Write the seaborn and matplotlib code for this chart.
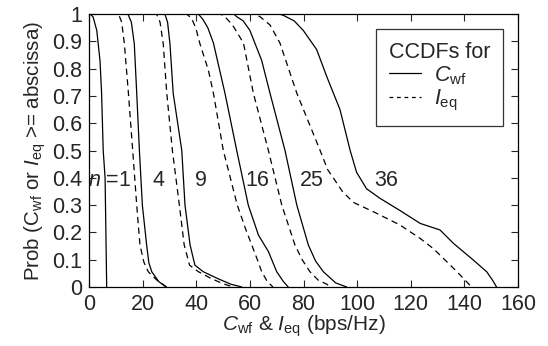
import numpy as np
import pandas as pd
import matplotlib
matplotlib.use("Agg")
import matplotlib.pyplot as plt
from matplotlib.lines import Line2D
import seaborn as sns

# curve points (x in bps/Hz, y = CCDF)
n1_cwf_x = [0, 0.4, 1.5, 2.9, 4.1, 4.7, 5.3, 6.0, 6.6]
n1_cwf_y = [1, 1, 0.99, 0.94, 0.83, 0.71, 0.5, 0.4, 0]

n4_ieq_x = [0, 11, 12.2, 13.2, 14.7, 16.3, 17.8, 19.0, 20.5, 22.1, 25.2, 29]
n4_ieq_y = [1, 1, 0.97, 0.89, 0.71, 0.5, 0.3, 0.154, 0.09, 0.056, 0.026, 0]
n4_cwf_x = [0, 14.5, 15.8, 16.9, 17.8, 18.8, 19.9, 21.5, 22.3, 23.4, 26, 28.7]
n4_cwf_y = [1, 1, 0.97, 0.89, 0.71, 0.5, 0.3, 0.154, 0.09, 0.056, 0.02, 0]

n9_ieq_x = [0, 25.2, 26.5, 27.7, 29.0, 31.1, 33.7, 35.5, 37.5, 40.8, 45.8, 50, 53.8]
n9_ieq_y = [1, 1, 0.97, 0.89, 0.71, 0.5, 0.3, 0.154, 0.08, 0.056, 0.03, 0.012, 0]
n9_cwf_x = [0, 28.3, 29.3, 30.2, 31.4, 34.6, 35.8, 37.7, 39.5, 42.6, 48.2, 53, 57]
n9_cwf_y = [1, 1, 0.97, 0.89, 0.71, 0.5, 0.3, 0.154, 0.08, 0.056, 0.03, 0.01, 0]

n16_ieq_x = [0, 36.4, 38.2, 39.8, 41.4, 44.5, 46.4, 50.1, 55.3, 58.5, 60.7, 62.8, 64.4, 66.5, 68.6]
n16_ieq_y = [1, 1, 0.985, 0.95, 0.89, 0.795, 0.71, 0.5, 0.3, 0.21, 0.154, 0.1, 0.056, 0.02, 0]
n16_cwf_x = [0, 40.8, 42.5, 44.3, 46.4, 50.7, 55.1, 59.4, 63.2, 66.9, 70, 72.5, 74.3]
n16_cwf_y = [1, 1, 0.98, 0.95, 0.894, 0.71, 0.5, 0.3, 0.19, 0.13, 0.056, 0.02, 0]

n25_ieq_x = [0, 49, 50.7, 53.5, 57.6, 61.3, 66.9, 71.9, 76.8, 79.5, 82.4, 85.5, 88.7, 90]
n25_ieq_y = [1, 1, 0.99, 0.96, 0.894, 0.71, 0.5, 0.3, 0.154, 0.1, 0.056, 0.025, 0.01, 0]
n25_cwf_x = [0, 54, 55.1, 57.5, 60, 64.4, 67.5, 73.1, 77.5, 81.8, 84.5, 87.4, 92, 96.1]
n25_cwf_y = [1, 1, 0.99, 0.975, 0.94, 0.83, 0.71, 0.5, 0.3, 0.154, 0.095, 0.056, 0.015, 0]

n36_ieq_x = [0, 62, 63.8, 67.5, 71.2, 77.5, 86.2, 87.4, 89.0, 91.1, 94.5, 98.6, 106, 116, 123.5,
             128.5, 133.4, 136.8, 139.6, 142.7]
n36_ieq_y = [1, 1, 0.99, 0.96, 0.894, 0.71, 0.5, 0.47, 0.43, 0.40, 0.35, 0.31, 0.276, 0.227, 0.178,
             0.14, 0.093, 0.06, 0.032, 0]
n36_cwf_x = [0, 71, 72.5, 76.5, 79.9, 84.9, 88.7, 93.6, 97.4, 99.8, 103.5, 108.5, 116, 123.5, 130.9,
             135.9, 143.3, 148.3, 150.5, 152]
n36_cwf_y = [1, 1, 0.995, 0.975, 0.94, 0.87, 0.77, 0.65, 0.5, 0.42, 0.36, 0.325, 0.28, 0.233, 0.209,
             0.16, 0.099, 0.056, 0.025, 0]

curve_labels = ["$n$ =1", "4", "9", "16", "25", "36"]
label_x = [7.8, 26.1, 41.8, 62.9, 83.1, 111]
label_y = 0.39

curves = [
    (1, "Cwf", n1_cwf_x, n1_cwf_y),
    (4, "Ieq", n4_ieq_x, n4_ieq_y), (4, "Cwf", n4_cwf_x, n4_cwf_y),
    (9, "Ieq", n9_ieq_x, n9_ieq_y), (9, "Cwf", n9_cwf_x, n9_cwf_y),
    (16, "Ieq", n16_ieq_x, n16_ieq_y), (16, "Cwf", n16_cwf_x, n16_cwf_y),
    (25, "Ieq", n25_ieq_x, n25_ieq_y), (25, "Cwf", n25_cwf_x, n25_cwf_y),
    (36, "Ieq", n36_ieq_x, n36_ieq_y), (36, "Cwf", n36_cwf_x, n36_cwf_y),
]
rows = []
for n, kind, xs, ys in curves:
    for xv, yv in zip(xs, ys):
        rows.append({"n": n, "kind": kind, "curve": f"{n}-{kind}", "x": xv, "p": yv})
df = pd.DataFrame(rows)

sns.set_style("ticks")
plt.rcParams["font.family"] = ["Liberation Sans", "DejaVu Sans"]
plt.rcParams["mathtext.fontset"] = "custom"
plt.rcParams["mathtext.rm"] = "Liberation Sans"
plt.rcParams["mathtext.it"] = "Liberation Sans:italic"

fig = plt.figure(figsize=(5.48, 3.46), dpi=100)
ax = fig.add_axes([0.1624, 0.1705, 0.7829, 0.789])

sns.lineplot(data=df, x="x", y="p", units="curve", style="kind", estimator=None,
             sort=False, color="black", linewidth=0.9,
             dashes={"Cwf": "", "Ieq": (5, 3.5)}, legend=False, ax=ax)

for lab, lx in zip(curve_labels, label_x):
    ax.text(lx, label_y, lab, ha="center", va="center", fontsize=15.5)

ax.set_xlim(0, 160)
ax.set_ylim(0, 1)
ax.set_xticks(np.arange(0, 161, 20))
ax.set_yticks(np.round(np.arange(0, 1.01, 0.1), 1))
ax.set_yticklabels(["0", "0.1", "0.2", "0.3", "0.4", "0.5", "0.6", "0.7", "0.8", "0.9", "1"])
ax.tick_params(direction="in", top=True, right=True, length=5, width=0.8,
               labelsize=15.5, pad=5)
for s in ax.spines.values():
    s.set_linewidth(0.9)
    s.set_color("black")

ax.set_xlabel(r"$C_{\rm wf}$ & $I_{\rm eq}$ (bps/Hz)", fontsize=15, labelpad=-1)
ax.set_ylabel(r"Prob (C$_{\rm wf}$ or $I_{\rm eq}$ >= abscissa)", fontsize=14.8, labelpad=3)

handles = [Line2D([0], [0], color="black", lw=0.9),
           Line2D([0], [0], color="black", lw=0.9, ls=(0, (3, 3)))]
leg = ax.legend(handles, [r"$C_{\rm wf}$", r"$I_{\rm eq}$"], title="CCDFs for",
                loc="upper right", bbox_to_anchor=(0.965, 0.945), borderaxespad=0,
                fontsize=15.5, title_fontsize=15.5, frameon=True, fancybox=False,
                handlelength=1.5, handletextpad=0.6, labelspacing=0.05, borderpad=0.6)
leg.get_frame().set_edgecolor("black")
leg.get_frame().set_linewidth(0.9)
leg._legend_box.align = "left"

fig.savefig("out.png", dpi=100)
